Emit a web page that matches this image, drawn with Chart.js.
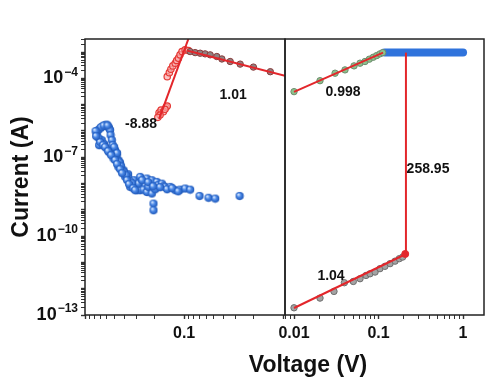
<!DOCTYPE html>
<html><head><meta charset="utf-8">
<script src="https://cdn.jsdelivr.net/npm/chart.js@4/dist/chart.umd.min.js"></script>
<style>
html,body{margin:0;padding:0;background:#fff;}
#wrap{position:relative;width:490px;height:380px;overflow:hidden;background:#fff;}
canvas{position:absolute;left:0;top:0;}
#xt{position:absolute;left:188px;width:240px;top:351px;text-align:center;font:bold 23px "Liberation Sans",Arial,sans-serif;color:#111;line-height:26px;}
</style></head><body>
<div id="wrap"><canvas id="a" width="490" height="380"></canvas><canvas id="b" width="490" height="380"></canvas><div id="xt">Voltage (V)</div></div>
<script>
// ---------- LEFT PANEL DATA (reversed |V| axis) ----------
const blueV = [0.762,0.739,0.705,0.658,0.628,0.607,0.582,0.573,0.559,0.553,0.537,0.498,0.461,0.443,0.426,0.410,0.368,0.365,0.338,0.325,0.320,
               0.722,0.678,0.643,0.604,0.573,0.518,0.461,0.394,0.351,0.301,0.278,
               0.278,0.248,0.238,0.212,0.189,0.183,0.168,0.162,0.156,0.138,0.123,0.110,0.0977,0.0870,0.070,0.0569,0.0486,0.0276,
               0.290,0.258,0.238,0.230,0.212,0.196,0.204,0.204,
               0.527,0.509,0.481,0.475,0.449,0.433,0.404,0.385,0.351,0.335,
               0.731,0.705,0.658,0.628,0.586,0.546,0.498,0.475,0.443,0.423,0.377,0.360,0.327,0.313,
               0.689,0.650,0.593,0.783,0.774,
               0.266,0.231,0.206,0.175,0.149,0.132,0.115];
const blueI = [8.1e-7,1.09e-6,1.26e-6,1.54e-6,1.69e-6,1.76e-6,1.45e-6,1.29e-6,1.09e-6,7.0e-7,4.5e-7,1.87e-7,7.8e-8,6.0e-8,3.2e-8,3.24e-8,2.28e-8,1.56e-8,8.7e-9,1.0e-8,1.35e-8,
               2.9e-7,4.5e-7,3.2e-7,2.18e-7,1.57e-7,9.1e-8,4.3e-8,1.8e-8,7.5e-9,5.6e-9,5.6e-9,
               1.8e-8,8.7e-9,1.56e-8,1.35e-8,1.16e-8,8.7e-9,1.0e-8,7.9e-9,7.5e-9,7.5e-9,5.6e-9,5.9e-9,6.5e-9,5.9e-9,3.4e-9,2.9e-9,2.7e-9,3.4e-9,
               1.0e-8,5.9e-9,4.8e-9,7.5e-9,4.2e-9,6.1e-9,1.74e-9,9.7e-10,
               2.91e-7,2.44e-7,1.21e-7,1.44e-7,6.5e-8,4.6e-8,2.72e-8,2.09e-8,1.23e-8,1.03e-8,
               5.4e-7,3.8e-7,2.91e-7,2.44e-7,1.72e-7,1.21e-7,7.8e-8,5.5e-8,3.53e-8,2.49e-8,1.35e-8,9.5e-9,6.7e-9,5.6e-9,
               1.41e-6,1.61e-6,1.61e-6,9.95e-7,6.4e-7,
               1.35e-8,1.13e-8,7.9e-9,7.3e-9,6.1e-9,6.7e-9,5.1e-9];
const redRiseV = [0.179,0.171,0.162,0.152,0.148,0.175,0.184,0.156,0.148,0.141,0.136,0.130,0.123,0.119,0.114,0.110,0.105,0.0977,0.0905];
const redRiseI = [4.97e-6,6.3e-6,5.4e-6,8.0e-6,8.9e-6,4.06e-6,3.3e-6,6.7e-6,1.17e-4,1.66e-4,2.24e-4,3.0e-4,3.8e-4,4.8e-4,5.9e-4,7.9e-4,1.05e-3,1.22e-3,1.15e-3];
const greyFallV = [0.0870,0.0774,0.0689,0.0614,0.0546,0.0468,0.0416,0.0343,0.0272,0.0200,0.0135];
const greyFallI = [1.05e-3,9.6e-4,9.1e-4,8.6e-4,7.9e-4,6.8e-4,5.5e-4,4.4e-4,3.5e-4,2.7e-4,1.8e-4];
const fitRiseV = [0.179,0.0906];
const fitRiseI = [2.9e-6,3.16e-3];
const fitFallV = [0.0939,0.0096];
const fitFallI = [1.15e-3,1.27e-4];

// ---------- RIGHT PANEL DATA ----------
const greenV = [0.0100,0.0203,0.0306,0.0401,0.0513,0.0604,0.0692,0.0778,0.0867,0.0952,0.104,0.112];
const greenI = [3.14e-5,8.2e-5,1.58e-4,2.11e-4,3.0e-4,3.8e-4,4.4e-4,5.4e-4,6.4e-4,7.4e-4,8.6e-4,9.6e-4];
const fitUpV = [0.0100,0.113];
const fitUpI = [3.1e-5,9.6e-4];
const bandV = [0.118,0.2,0.3,0.5,0.7,1.0];
const bandI = [9.6e-4,9.6e-4,9.6e-4,9.6e-4,9.6e-4,9.6e-4];
const greyLowV = [0.0100,0.0203,0.0297,0.0394,0.0503,0.0604,0.0711,0.0793,0.0910,0.104,0.119,0.137,0.157,0.176,0.193];
const greyLowI = [1.88e-13,4.4e-13,7.9e-13,1.69e-12,1.89e-12,2.4e-12,3.2e-12,3.7e-12,4.3e-12,5.8e-12,7.1e-12,9.0e-12,1.12e-11,1.39e-11,1.60e-11];
const fitLowV = [0.0100,0.205];
const fitLowI = [1.85e-13,2.0e-11];
const jumpV = [0.211,0.211];
const jumpI = [2.0e-11,9.6e-4];
const jumpMarkV = [0.207];
const jumpMarkI = [2.1e-11];

// ---------- AXES / LABELS ----------
const yLabelExps = [-4,-7,-10,-13];
const yMin = 1e-13, yMax = 3.16e-3;
const xLeftLabels = [0.1];
const xRightLabels = [0.01,0.1,1];
const xLeftRange = [0.0096,1.0];
const xRightRange = [0.00782,1.77];
const notesLeft = [{t:'-8.88',v:0.272,i:1.84e-6},{t:'1.01',v:0.032,i:2.35e-5}];
const notesRight = [{t:'0.998',v:0.038,i:3.05e-5},{t:'258.95',v:0.385,i:3.53e-8},{t:'1.04',v:0.0274,i:2.94e-12}];

const FONT = '"Liberation Sans", Arial, sans-serif';
const pts = (xs, ys) => xs.map((x, k) => ({x, y: ys[k]}));

function sphere(r){
  const s = 2*r+2, cv = document.createElement('canvas');
  cv.width = s; cv.height = s;
  const g = cv.getContext('2d');
  const grd = g.createRadialGradient(s/2-r*0.35, s/2-r*0.4, r*0.1, s/2, s/2, r);
  grd.addColorStop(0, '#d8e8ff'); grd.addColorStop(0.45, '#4a88e6'); grd.addColorStop(1, '#1d56b8');
  g.fillStyle = grd; g.beginPath(); g.arc(s/2, s/2, r, 0, Math.PI*2); g.fill();
  return cv;
}
const blueBall = sphere(4.1);

function tickList(lo, hi){
  const out = [];
  for (let e = Math.floor(Math.log10(lo)); e <= Math.ceil(Math.log10(hi)); e++){
    for (let m = 1; m <= 9; m++){
      const v = parseFloat((m*Math.pow(10,e)).toPrecision(6));
      if (v >= lo*0.9999 && v <= hi*1.0001) out.push({value: v, major: m === 1});
    }
  }
  return out;
}
const near = (a, b) => Math.abs(Math.log10(a) - Math.log10(b)) < 1e-6;

function xAxis(range, labels, reverse){
  return {
    type: 'logarithmic', min: range[0], max: range[1], reverse,
    afterBuildTicks: s => { s.ticks = tickList(range[0], range[1]); },
    afterFit: s => { s.height = 65; },
    border: {display: false},
    grid: {display: true, drawOnChartArea: false, drawTicks: true, tickLength: 4, color: '#333', tickColor: '#333',
           tickWidth: c => (c.tick && c.tick.major) ? 1.4 : 1},
    ticks: {autoSkip: false, maxRotation: 0, padding: 5, color: '#111',
            font: {family: FONT, size: 16, weight: 'bold'},
            callback: v => { const l = labels.find(q => near(q, v)); return l === undefined ? '' : String(l); }}
  };
}

function framePlugin(id, notes, drawY){
  return {
    id,
    afterDraw(chart){
      const {ctx, chartArea: a, scales} = chart;
      ctx.save();
      ctx.strokeStyle = '#222'; ctx.lineWidth = 1.5;
      ctx.strokeRect(a.left, a.top, a.right - a.left, a.bottom - a.top);
      ctx.fillStyle = '#111'; ctx.textAlign = 'center'; ctx.textBaseline = 'middle';
      ctx.font = 'bold 14px ' + FONT;
      notes.forEach(n => ctx.fillText(n.t, scales.x.getPixelForValue(n.v), scales.y.getPixelForValue(n.i)));
      if (drawY){
        yLabelExps.forEach(e => {
          const y = scales.y.getPixelForValue(Math.pow(10, e));
          const sup = '\u2212' + Math.abs(e);
          ctx.font = 'bold 12px ' + FONT; const w2 = ctx.measureText(sup).width;
          ctx.font = 'bold 18px ' + FONT; const w1 = ctx.measureText('10').width;
          const xr = 78, x0 = xr - w1 - w2 - 1;
          ctx.textAlign = 'left';
          ctx.fillText('10', x0, y);
          ctx.font = 'bold 12px ' + FONT;
          ctx.fillText(sup, x0 + w1 + 1, y - 6);
        });
      }
      ctx.restore();
    }
  };
}

const yCommon = {
  type: 'logarithmic', min: yMin, max: yMax,
  afterBuildTicks: s => { s.ticks = tickList(yMin, yMax); },
};

// ---------- LEFT CHART ----------
new Chart(document.getElementById('a'), {
  type: 'scatter',
  data: {datasets: [
    {data: pts(fitRiseV, fitRiseI), showLine: true, borderColor: '#e3262b', borderWidth: 2, pointRadius: 0, clip: 0, order: 1},
    {data: pts(fitFallV, fitFallI), showLine: true, borderColor: '#e3262b', borderWidth: 2, pointRadius: 0, clip: 0, order: 1},
    {data: pts(greyFallV, greyFallI), pointRadius: 3.2, backgroundColor: '#8e8282', borderColor: '#8a3a3a', borderWidth: 1, order: 2},
    {data: pts(redRiseV, redRiseI), pointRadius: 3.2, backgroundColor: 'rgba(250,170,170,0.7)', borderColor: '#e53935', borderWidth: 1.2, order: 2},
    {data: pts(blueV, blueI), pointStyle: blueBall, order: 3}
  ]},
  options: {
    responsive: false, animation: false, devicePixelRatio: 1,
    layout: {padding: {left: 0, right: 205, top: 39, bottom: 0}},
    plugins: {legend: {display: false}, tooltip: {enabled: false}},
    scales: {
      x: xAxis(xLeftRange, xLeftLabels, true),
      y: Object.assign({}, yCommon, {
        afterFit: s => { s.width = 85; },
        border: {display: false},
        grid: {display: true, drawOnChartArea: false, drawTicks: true, tickLength: 4, tickColor: '#333',
               tickWidth: c => (c.tick && c.tick.major) ? 1.4 : 1},
        ticks: {autoSkip: false, callback: () => '', padding: 0},
        title: {display: true, text: 'Current (A)', color: '#111', padding: {top: 8, bottom: 0},
                font: {family: FONT, size: 23, weight: 'bold'}}
      })
    }
  },
  plugins: [framePlugin('frameA', notesLeft, true)]
});

// ---------- RIGHT CHART ----------
new Chart(document.getElementById('b'), {
  type: 'scatter',
  data: {datasets: [
    {data: pts(jumpV, jumpI), showLine: true, borderColor: '#e3262b', borderWidth: 2, pointRadius: 0, order: 0},
    {data: pts(jumpMarkV, jumpMarkI), pointRadius: 3.5, backgroundColor: '#e3262b', borderColor: '#e3262b', order: 0},
    {data: pts(fitUpV, fitUpI), showLine: true, borderColor: '#e3262b', borderWidth: 2, pointRadius: 0, order: 1},
    {data: pts(fitLowV, fitLowI), showLine: true, borderColor: '#e3262b', borderWidth: 2, pointRadius: 0, order: 1},
    {data: pts(greenV, greenI), pointRadius: 3.2, backgroundColor: '#8cc28c', borderColor: '#6f8c6f', borderWidth: 1, order: 2},
    {data: pts(greyLowV, greyLowI), pointRadius: 3.2, backgroundColor: '#a3a3a3', borderColor: '#6e6e6e', borderWidth: 1, order: 2},
    {data: pts(bandV, bandI), showLine: true, borderColor: '#2f73dc', borderWidth: 8, borderCapStyle: 'round', pointRadius: 0, order: 5}
  ]},
  options: {
    responsive: false, animation: false, devicePixelRatio: 1,
    layout: {padding: {left: 285, right: 6, top: 39, bottom: 0}},
    plugins: {legend: {display: false}, tooltip: {enabled: false}},
    scales: {
      x: xAxis(xRightRange, xRightLabels, false),
      y: Object.assign({}, yCommon, {display: false})
    }
  },
  plugins: [framePlugin('frameB', notesRight, false)]
});
</script>
</body></html>
